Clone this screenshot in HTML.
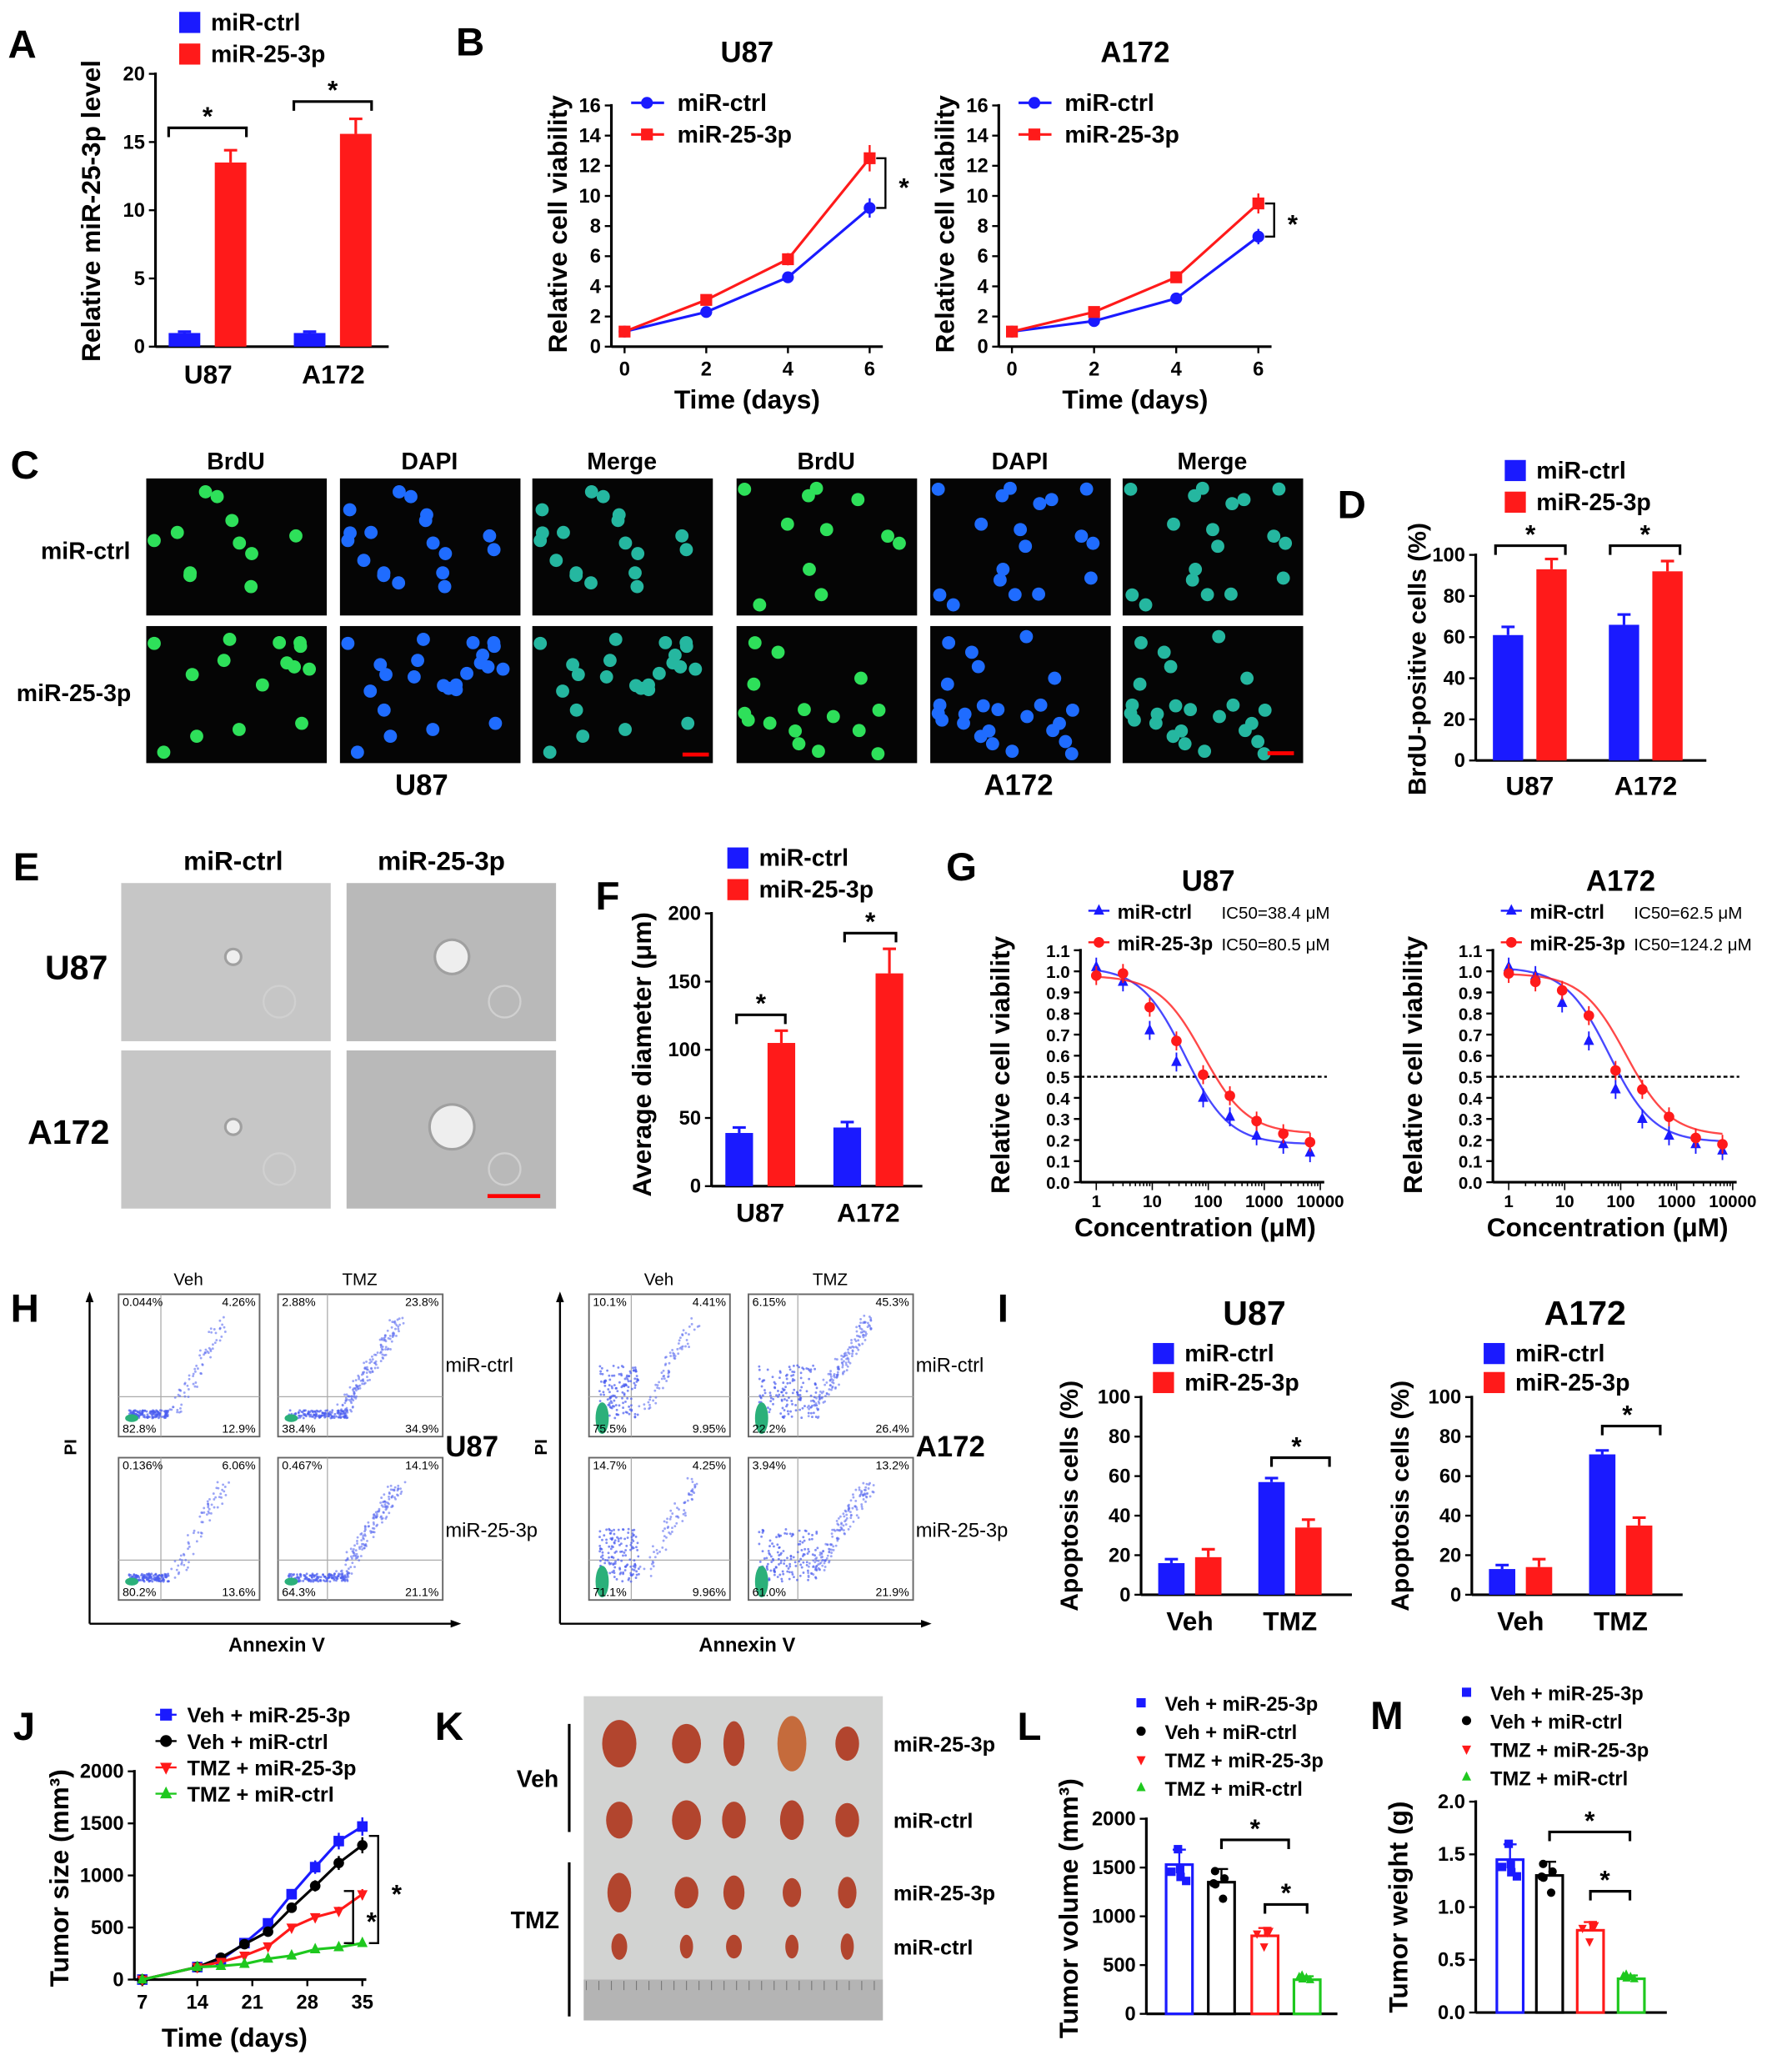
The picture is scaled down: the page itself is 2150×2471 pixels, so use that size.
<!DOCTYPE html>
<html><head><meta charset="utf-8">
<style>
html,body{margin:0;padding:0;background:#fff;}
svg{display:block;}
text{font-family:"Liberation Sans",Arial,sans-serif;}
</style></head>
<body>
<svg id="fig" xmlns="http://www.w3.org/2000/svg" width="2150" height="2471" viewBox="0 0 1360 1563"></svg>
<script>
// ---------- DATA ----------
const aGroups=['U87','A172'];
const aCtrl=[1,1]; const aMir=[13.5,15.6]; const aCtrlErr=[0.1,0.1]; const aMirErr=[0.9,1.1];
const bDays=[0,2,4,6];
const bU87Ctrl=[1,2.3,4.6,9.2]; const bU87Mir=[1,3.1,5.8,12.5];
const bA172Ctrl=[1,1.7,3.2,7.3]; const bA172Mir=[1,2.3,4.6,9.5];
const bTicks=[0,2,4,6,8,10,12,14,16];
const dCtrl=[61,66]; const dMir=[93,92]; const dCtrlErr=[4,5]; const dMirErr=[5,5];
const fCtrl=[39,43]; const fMir=[105,156]; const fCtrlErr=[4,4]; const fMirErr=[9,18];
const gConc=[1,3,9,27,81,243,729,2187,6561];
const gU87Ctrl=[1.02,0.95,0.72,0.57,0.40,0.31,0.22,0.18,0.14];
const gU87Mir=[0.98,0.99,0.83,0.67,0.51,0.41,0.29,0.23,0.19];
const gA172Ctrl=[1.02,0.98,0.85,0.67,0.44,0.30,0.22,0.18,0.15];
const gA172Mir=[0.99,0.95,0.91,0.79,0.53,0.44,0.31,0.21,0.18];
const gIC50=[38.4,80.5,62.5,124.2];
const iGroups=['Veh','TMZ'];
const iU87Ctrl=[16,57]; const iU87Mir=[19,34];
const iA172Ctrl=[13,71]; const iA172Mir=[14,35];
const jDays=[7,14,17,20,23,26,29,32,35];
const jVehMir=[0,120,190,350,540,820,1080,1330,1470];
const jVehCtrl=[0,120,210,340,460,690,900,1120,1290];
const jTmzMir=[0,120,170,230,320,500,600,660,820];
const jTmzCtrl=[0,120,130,150,200,230,290,310,350];
const lVol=[1530,1350,800,350];
const mWeight=[1.45,1.3,0.78,0.32];
const hU87Pct=[['0.044%','4.26%','82.8%','12.9%'],['2.88%','23.8%','38.4%','34.9%'],['0.136%','6.06%','80.2%','13.6%'],['0.467%','14.1%','64.3%','21.1%']];
const hA172Pct=[['10.1%','4.41%','75.5%','9.95%'],['6.15%','45.3%','22.2%','26.4%'],['14.7%','4.25%','71.1%','9.96%'],['3.94%','13.2%','61.0%','21.9%']];

// ---------- HELPERS ----------
const NS='http://www.w3.org/2000/svg';
const S=document.getElementById('fig');
const BLUE='#1a1aff', RED='#ff1a1a';
function mk(tag,a,p){const e=document.createElementNS(NS,tag);for(const k in a)e.setAttribute(k,a[k]);(p||S).appendChild(e);return e;}
function tx(x,y,s,size,o){o=o||{};const e=mk('text',{x:x,y:y,'font-size':size,'font-weight':o.w||'bold','text-anchor':o.a||'middle',fill:o.c||'#000'},o.p);if(o.r)e.setAttribute('transform','rotate(-90 '+x+' '+y+')');e.textContent=s;return e;}
function lin(d0,d1,r0,r1){return v=>r0+(v-d0)*(r1-r0)/(d1-d0);}
function line(x1,y1,x2,y2,c,w,p){const e=mk('line',{x1:x1,y1:y1,x2:x2,y2:y2,stroke:c||'#000','stroke-width':w||2},p);return e;}
function yAxis(x,yb,yt,ticks,sc,fmt,fs){line(x,yb,x,yt-1);ticks.forEach(t=>{const y=sc(t);line(x-5,y,x,y,'#000',1.5);tx(x-8,y+5,fmt?fmt(t):t,fs||15,{a:'end',n:'y-tick-label'});});}
function legendSq(x,y,c,s,fs){const r=mk('rect',{x:x,y:y-13,width:16,height:16,fill:c});tx(x+24,y+1,s,fs||18,{a:'start',n:'legend-entry'});}
function sig(x1,x2,y,sx,sy){const p=mk('path',{d:`M${x1} ${y+7}V${y}H${x2}V${y+7}`,fill:'none',stroke:'#000','stroke-width':2});tx(sx===undefined?(x1+x2)/2:sx,sy===undefined?y-2:sy,'*',20,{n:'significance-star'});}
function vsig(x,y1,y2){const p=mk('path',{d:`M${x-7} ${y1}H${x}V${y2}H${x-7}`,fill:'none',stroke:'#000','stroke-width':1.5});tx(x+14,(y1+y2)/2+10,'*',20,{n:'significance-star'});}
function bar(cx,w,v,e,sc,c,name){const y=sc(v),y0=sc(0);const r=mk('rect',{x:cx-w/2,y:y,width:w,height:y0-y,fill:c});if(e){const ye=sc(v+e);line(cx,y,cx,ye,c,2);line(cx-5,ye,cx+5,ye,c,2);}}
function marker(x,y,type,c,sz){let e;sz=sz||5;
 if(type==='circle')e=mk('circle',{cx:x,cy:y,r:sz,fill:c});
 else if(type==='square')e=mk('rect',{x:x-sz,y:y-sz,width:2*sz,height:2*sz,fill:c});
 else if(type==='tri')e=mk('polygon',{points:`${x},${y-sz-1} ${x-sz},${y+sz-1} ${x+sz},${y+sz-1}`,fill:c});
 else e=mk('polygon',{points:`${x},${y+sz+1} ${x-sz},${y-sz+1} ${x+sz},${y-sz+1}`,fill:c});
 return e;}
function letter(x,y,s){tx(x,y,s,30,{a:'start',n:'panel-letter-'+s.toLowerCase()});}
let seed=7;function rnd(){seed=(seed*16807)%2147483647;return seed/2147483647;}

// ---------- PANEL A ----------
letter(6,44,'A');
(function(){const sc=lin(0,20,263,56);yAxis(118,263,56,[0,5,10,15,20],sc);line(118,263,295,263);
 const cx=[158,253];aGroups.forEach((g,i)=>{bar(cx[i]-18,24,aCtrl[i],aCtrlErr[i],sc,BLUE,'bar-ctrl-'+g);bar(cx[i]+17,24,aMir[i],aMirErr[i],sc,RED,'bar-mir-'+g);tx(cx[i],291,g,20,{n:'x-tick-label'});});
 sig(128,187,97);sig(223,282,77);
 tx(76,160,'Relative miR-25-3p level',20,{r:1,n:'y-axis-title'});
 legendSq(136,22,BLUE,'miR-ctrl');legendSq(136,46,RED,'miR-25-3p');})();

// ---------- PANEL B ----------
letter(346,42,'B');
function lineChart(x0,x6,title,ctrl,mir,br){const sx=lin(0,6,x0,x6),sy=lin(0,16,263,80);
 yAxis(x0-10,263,80,bTicks,sy);line(x0-10,263,x6+10,263);
 bDays.forEach(d=>{line(sx(d),263,sx(d),268,'#000',1.5);tx(sx(d),285,d,15,{n:'x-tick-label'});});
 [[ctrl,BLUE,'circle'],[mir,RED,'square']].forEach(([arr,c,m])=>{const p=mk('polyline',{points:arr.map((v,i)=>sx(bDays[i])+','+sy(v)).join(' '),fill:'none',stroke:c,'stroke-width':2});arr.forEach((v,i)=>{marker(sx(bDays[i]),sy(v),m,c,4.5);const e=v*0.07;line(sx(bDays[i]),sy(v-e),sx(bDays[i]),sy(v+e),c,1.5);});});
 tx((x0+x6)/2,47,title,22,{n:'chart-title'});
 tx((x0+x6)/2,310,'Time (days)',20,{n:'x-axis-title'});
 tx(x0-44,170,'Relative cell viability',20,{r:1,n:'y-axis-title'});
 line(x0+5,78,x0+30,78,BLUE,2);marker(x0+17,78,'circle',BLUE,4.5);tx(x0+40,84,'miR-ctrl',18,{a:'start',n:'legend-entry'});
 line(x0+5,102,x0+30,102,RED,2);marker(x0+17,102,'square',RED,4.5);tx(x0+40,108,'miR-25-3p',18,{a:'start',n:'legend-entry'});
 vsig(x6+12,sy(mir[3]),sy(ctrl[3]));}
lineChart(474,660,'U87',bU87Ctrl,bU87Mir);lineChart(768,955,'A172',bA172Ctrl,bA172Mir);

// ---------- PANEL C ----------
letter(8,363,'C');
(function(){const cols=[111,258,404,559,706,852],rows=[363,475];const lab=['BrdU','DAPI','Merge','BrdU','DAPI','Merge'];
 cols.forEach((x,ci)=>{tx(x+68,356,lab[ci],18,{n:'column-label'});rows.forEach((y,ri)=>{const g=mk('g',{});
  mk('rect',{x:x,y:y,width:137,height:104,fill:'#050505'},g);const k=ci%3;const col=k===0?'#2ee05a':k===1?'#1f6cff':'#25b7a0';
  seed=11+(ci>=3?50:0)+ri*20; const n=ri===0?18:24;
  for(let i=0;i<n*(k===0?0.6:1);i++){const cx=x+6+rnd()*125,cy=y+6+rnd()*92;mk('circle',{cx:cx,cy:cy,r:5,fill:col},g);}
  });});
 tx(65,424,'miR-ctrl',18,{n:'row-label'});tx(56,532,'miR-25-3p',18,{n:'row-label'});
 const sb=mk('rect',{x:518,y:571,width:20,height:3,fill:'#f00'});
 const sb2=mk('rect',{x:962,y:570,width:20,height:3,fill:'#f00'});
 tx(320,603,'U87',22,{n:'cell-line-label'});tx(773,603,'A172',22,{n:'cell-line-label'});})();

// ---------- PANEL D ----------
letter(1015,393,'D');
(function(){const sc=lin(0,100,577,421);yAxis(1120,577,421,[0,20,40,60,80,100],sc);line(1120,577,1295,577);
 const cx=[1161,1249];aGroups.forEach((g,i)=>{bar(cx[i]-16.5,23,dCtrl[i],dCtrlErr[i],sc,BLUE,'bar-ctrl-'+g);bar(cx[i]+16.5,23,dMir[i],dMirErr[i],sc,RED,'bar-mir-'+g);tx(cx[i],603,g,20,{n:'x-tick-label'});});
 sig(1135,1188,414);sig(1222,1275,414);
 tx(1082,500,'BrdU-positive cells (%)',19,{r:1,n:'y-axis-title'});
 legendSq(1142,362,BLUE,'miR-ctrl');legendSq(1142,386,RED,'miR-25-3p');})();

// ---------- PANEL E ----------
letter(10,668,'E');
(function(){const xs=[92,263],ys=[670,797];const sizes=[[5,12],[5,16]];
 xs.forEach((x,ci)=>ys.forEach((y,ri)=>{const g=mk('g',{});
  mk('rect',{x:x,y:y,width:159,height:120,fill:ci?'#b9b9b9':'#c6c6c6'},g);
  const cx=x+(ci?80:85),cy=y+(ri?58:56);mk('circle',{cx:cx,cy:cy,r:sizes[ri][ci]+2,fill:'#a0a0a0'},g);mk('circle',{cx:cx,cy:cy,r:sizes[ri][ci],fill:'#eeeeee'},g);
  mk('circle',{cx:x+120,cy:y+90,r:12,fill:'none',stroke:'#d0d0d0','stroke-width':1.5},g);}));
 tx(177,660,'miR-ctrl',20,{n:'column-label'});tx(335,660,'miR-25-3p',20,{n:'column-label'});
 tx(58,743,'U87',26,{n:'row-label'});tx(52,868,'A172',26,{n:'row-label'});
 const sb=mk('rect',{x:370,y:906,width:40,height:3,fill:'#f00'});})();

// ---------- PANEL F ----------
letter(452,690,'F');
(function(){const sc=lin(0,200,900,693);yAxis(540,900,693,[0,50,100,150,200],sc);line(540,900,700,900);
 const cx=[577,659];aGroups.forEach((g,i)=>{bar(cx[i]-16,21,fCtrl[i],fCtrlErr[i],sc,BLUE,'bar-ctrl-'+g);bar(cx[i]+16,21,fMir[i],fMirErr[i],sc,RED,'bar-mir-'+g);tx(cx[i],927,g,20,{n:'x-tick-label'});});
 sig(559,596,770);sig(641,680,708);
 tx(494,800,'Average diameter (μm)',20,{r:1,n:'y-axis-title'});
 legendSq(552,656,BLUE,'miR-ctrl');legendSq(552,680,RED,'miR-25-3p');})();

// ---------- PANEL G ----------
letter(718,668,'G');
function doseChart(x1,x10k,title,ctrl,mir,ic1,ic2){const sx=v=>x1+Math.log10(v)*(x10k-x1)/4,sy=lin(0,1.1,897,721);const ax=x1-12;
 yAxis(ax,897,721,[0,0.1,0.2,0.3,0.4,0.5,0.6,0.7,0.8,0.9,1.0,1.1].map(v=>+v.toFixed(1)),sy,v=>v.toFixed(1),13);
 line(ax,897,x10k+3,897);
 for(let d=0;d<4;d++)for(let m=1;m<10;m++){const v=Math.pow(10,d)*m;line(sx(v),897,sx(v),m===1?903:900,'#000',1);}line(sx(10000),897,sx(10000),903,'#000',1);
 [1,10,100,1000,10000].forEach(v=>tx(sx(v),916,v,13,{n:'x-tick-label'}));
 const dl=mk('line',{x1:ax,y1:sy(0.5),x2:x10k+5,y2:sy(0.5),stroke:'#000','stroke-width':1.5,'stroke-dasharray':'3,2'});
 [[ctrl,BLUE,'tri',ic1],[mir,RED,'circle',ic2]].forEach(([arr,c,m,ic])=>{const top=arr[0],bot=arr[arr.length-1]+0.04;let pts=[];for(let k=0;k<=80;k++){const lx=k*Math.log10(gConc[8])/80;const v=Math.pow(10,lx);const y=bot+(top-bot)/(1+Math.pow(v/ic,1.1));pts.push(sx(v)+','+sy(y));}
  const p=mk('polyline',{points:pts.join(' '),fill:'none',stroke:c,'stroke-width':1.5,'stroke-opacity':0.8});
  arr.forEach((v,i)=>{line(sx(gConc[i]),sy(v-0.045),sx(gConc[i]),sy(v+0.045),c,1.2);marker(sx(gConc[i]),sy(v),m,c,4);});});
 tx((x1+x10k)/2,676,title,22,{n:'chart-title'});
 tx((x1+x10k)/2-10,938,'Concentration (μM)',20,{n:'x-axis-title'});
 tx(x1-66,808,'Relative cell viability',20,{r:1,n:'y-axis-title'});
 marker(x1+2,691,'tri',BLUE,4);line(x1-6,691,x1+10,691,BLUE,1.5);tx(x1+16,697,'miR-ctrl',15,{a:'start',n:'legend-entry'});tx(x1+95,697,'IC50='+ic1+' μM',13,{a:'start',w:'normal',n:'ic50-label'});
 marker(x1+2,715,'circle',RED,4);line(x1-6,715,x1+10,715,RED,1.5);tx(x1+16,721,'miR-25-3p',15,{a:'start',n:'legend-entry'});tx(x1+95,721,'IC50='+ic2+' μM',13,{a:'start',w:'normal',n:'ic50-label'});}
doseChart(832,1002,'U87',gU87Ctrl,gU87Mir,gIC50[0],gIC50[1]);
doseChart(1145,1315,'A172',gA172Ctrl,gA172Mir,gIC50[2],gIC50[3]);

// ---------- PANEL H ----------
letter(8,1003,'H');
function flowGroup(ox,pcts,cell,pos){const W=[[ox+90,982],[ox+211,982],[ox+90,1106],[ox+211,1106]];const w=[107,125];
 W.forEach(([x,y],k)=>{const ww=w[k%2],hh=108;const g=mk('g',{});
  mk('rect',{x:x,y:y,width:ww,height:hh,fill:'#fff',stroke:'#666','stroke-width':1.2},g);
  const qx=x+ww*0.3,qy=y+hh*0.72;mk('line',{x1:qx,y1:y,x2:qx,y2:y+hh,stroke:'#aaa','stroke-width':0.8},g);mk('line',{x1:x,y1:qy,x2:x+ww,y2:qy,stroke:'#aaa','stroke-width':0.8},g);
  seed=100+k*37+ox;const tmz=k%2===1;
  for(let i=0;i<140;i++){mk('circle',{cx:x+8+rnd()*(tmz?45:30),cy:y+hh-14-rnd()*(pos?40:6),r:0.9,fill:'#4a5cf0',opacity:0.7},g);}
  for(let i=0;i<(tmz?160:70);i++){const t=rnd();mk('circle',{cx:x+ww*(0.35+t*0.35)+rnd()*10,cy:y+hh-14-t*70-rnd()*10,r:0.9,fill:'#5a6af0',opacity:0.6},g);}
  mk('ellipse',{cx:x+10,cy:y+hh-14,rx:5,ry:pos?12:3,fill:'#2bb07a'},g);
  const pc=pcts[k];tx(x+3,y+9,pc[0],9,{a:'start',w:'normal',n:'quadrant-pct',p:g});tx(x+ww-3,y+9,pc[1],9,{a:'end',w:'normal',n:'quadrant-pct',p:g});
  tx(x+3,y+hh-3,pc[2],9,{a:'start',w:'normal',n:'quadrant-pct',p:g});tx(x+ww-3,y+hh-3,pc[3],9,{a:'end',w:'normal',n:'quadrant-pct',p:g});});
 line(ox+68,1232,ox+346,1232,'#000',1.5);line(ox+68,1232,ox+68,985,'#000',1.5);
 mk('polygon',{points:`${ox+68},980 ${ox+65},988 ${ox+71},988`});mk('polygon',{points:`${ox+350},1232 ${ox+342},1229 ${ox+342},1235`});
 tx(ox+58,1098,'PI',13,{r:1,n:'y-axis-title'});tx(ox+210,1253,'Annexin V',15,{n:'x-axis-title'});
 tx(ox+143,975,'Veh',13,{w:'normal',n:'column-label'});tx(ox+273,975,'TMZ',13,{w:'normal',n:'column-label'});
 tx(ox+338,1041,'miR-ctrl',15,{a:'start',w:'normal',n:'row-label'});tx(ox+338,1166,'miR-25-3p',15,{a:'start',w:'normal',n:'row-label'});
 tx(ox+338,1105,cell,22,{a:'start',n:'cell-line-label'});}
flowGroup(0,hU87Pct,'U87',false);
flowGroup(357,hA172Pct,'A172',true);

// ---------- PANEL I ----------
letter(757,1003,'I');
function apopChart(ax,ctrl,mir,title){const sc=lin(0,100,1210,1060);yAxis(ax,1210,1060,[0,20,40,60,80,100],sc);line(ax,1210,ax+160,1210);
 const cx=[ax+37,ax+113];iGroups.forEach((g,i)=>{bar(cx[i]-14,20,ctrl[i],2,sc,BLUE,'bar-ctrl-'+g);bar(cx[i]+14,20,mir[i],4,sc,RED,'bar-mir-'+g);tx(cx[i],1237,g,20,{n:'x-tick-label'});});
 const yb=title==='U87'?1106:1082;sig(cx[1]-14,cx[1]+30,yb,cx[1]+5,yb-2);
 tx(ax+86,1005,title,26,{n:'chart-title'});
 tx(ax-48,1135,'Apoptosis cells (%)',19,{r:1,n:'y-axis-title'});
 legendSq(ax+9,1032,BLUE,'miR-ctrl');legendSq(ax+9,1054,RED,'miR-25-3p');}
apopChart(866,iU87Ctrl,iU87Mir,'U87');apopChart(1117,iA172Ctrl,iA172Mir,'A172');

// ---------- PANEL J ----------
letter(10,1320,'J');
(function(){const sx=lin(7,35,108,275),sy=lin(0,2000,1502,1344);yAxis(102,1502,1344,[0,500,1000,1500,2000],sy);line(102,1502,278,1502);
 [7,14,21,28,35].forEach(d=>{line(sx(d),1502,sx(d),1507,'#000',1.5);tx(sx(d),1524,d,15,{n:'x-tick-label'});});
 const ser=[[jVehMir,BLUE,'square','Veh + miR-25-3p'],[jVehCtrl,'#000','circle','Veh + miR-ctrl'],[jTmzMir,RED,'down','TMZ + miR-25-3p'],[jTmzCtrl,'#1ec81e','tri','TMZ + miR-ctrl']];
 ser.forEach(([arr,c,m,lab],si)=>{const p=mk('polyline',{points:arr.map((v,i)=>sx(jDays[i])+','+sy(v)).join(' '),fill:'none',stroke:c,'stroke-width':2});
  arr.forEach((v,i)=>{const e=v*0.06;if(e>5){line(sx(jDays[i]),sy(v-e),sx(jDays[i]),sy(v+e),c,1.5);}marker(sx(jDays[i]),sy(v),m,c,4);});
  const ly=1301+si*20;marker(126,ly,m,c,4.5);line(118,ly,134,ly,c,1.5);tx(142,ly+6,lab,16,{a:'start',n:'legend-entry'});});
 vsig(287,sy(1380),sy(350));vsig(268,sy(850),sy(350));
 tx(52,1425,'Tumor size (mm³)',20,{r:1,n:'y-axis-title'});tx(178,1553,'Time (days)',20,{n:'x-axis-title'});})();

// ---------- PANEL K ----------
letter(330,1320,'K');
(function(){const g=mk('g',{});
 mk('rect',{x:443,y:1287,width:227,height:246,fill:'#d2d3d2'},g);mk('rect',{x:443,y:1502,width:227,height:31,fill:'#b4b4b4'},g);
 for(let i=0;i<24;i++)mk('line',{x1:445+i*9.5,y1:1503,x2:445+i*9.5,y2:1510,stroke:'#777','stroke-width':0.7},g);
 const cx=[470,521,557,601,643],rows=[1323,1381,1436,1477],sz=[[13,11,8,11,9],[10,11,9,9,9],[9,9,8,7,7],[6,5,6,5,5]];const hs=[[18,15,17,21,13],[14,15,14,15,13],[15,12,13,11,12],[10,9,9,9,10]];
 rows.forEach((y,ri)=>cx.forEach((x,ci)=>{mk('ellipse',{cx:x,cy:y,rx:sz[ri][ci],ry:hs[ri][ci],fill:ri===0&&ci===3?'#c56b3c':'#b2452e'},g);}));
 line(432,1308,432,1390,'#000',2);line(432,1413,432,1530,'#000',2);
 tx(408,1356,'Veh',18,{n:'group-label'});tx(406,1463,'TMZ',18,{n:'group-label'});
 ['miR-25-3p','miR-ctrl','miR-25-3p','miR-ctrl'].forEach((s,i)=>tx(678,rows[i]+6,s,16,{a:'start',n:'row-label'}));})();

// ---------- PANELS L & M ----------
function dotChart(ax,yTop,sc,ticks,fmt,vals,cx,title,ttl,legX,legY){yAxis(ax,sc(0),yTop,ticks,sc,fmt);line(ax,sc(0),ax+145,sc(0));
 const cols=[BLUE,'#000',RED,'#1ec81e'],mks=['square','circle','down','tri'],labs=['Veh + miR-25-3p','Veh + miR-ctrl','TMZ + miR-25-3p','TMZ + miR-ctrl'];
 vals.forEach((v,i)=>{const y=sc(v),y0=sc(0);const r=mk('rect',{x:cx[i]-10,y:y,width:20,height:y0-y,fill:'#fff',stroke:cols[i],'stroke-width':2});
  const ye=sc(v*1.1);line(cx[i],y,cx[i],ye,cols[i],1.5);line(cx[i]-5,ye,cx[i]+5,ye,cols[i],1.5);
  seed=33+i;for(let k=0;k<5;k++){marker(cx[i]-6+rnd()*12,sc(v*(0.85+rnd()*0.3)),mks[i],cols[i],3.2);}});
 labs.forEach((s,i)=>{marker(legX,legY+i*21.5,mks[i],cols[i],3.5);tx(legX+18,legY+i*21.5+6,s,15,{a:'start',n:'legend-entry'});});
 tx(ax-52,sc(0)-80,ttl,20,{r:1,n:'y-axis-title'});}
letter(772,1320,'L');
dotChart(870,1380,lin(0,2000,1528,1380),[0,500,1000,1500,2000],null,lVol,[895,927,960,992],'L','Tumor volume (mm³)',866,1292);
sig(927,978,1396);sig(960,992,1445,976,1443);
letter(1040,1312,'M');
dotChart(1120,1367,lin(0,2,1527,1367),[0,0.5,1,1.5,2],v=>v.toFixed(1),mWeight,[1146,1176,1207,1238],'M','Tumor weight (g)',1113,1284);
sig(1176,1237,1390);sig(1207,1237,1435,1218,1433);
</script>
</body></html>
